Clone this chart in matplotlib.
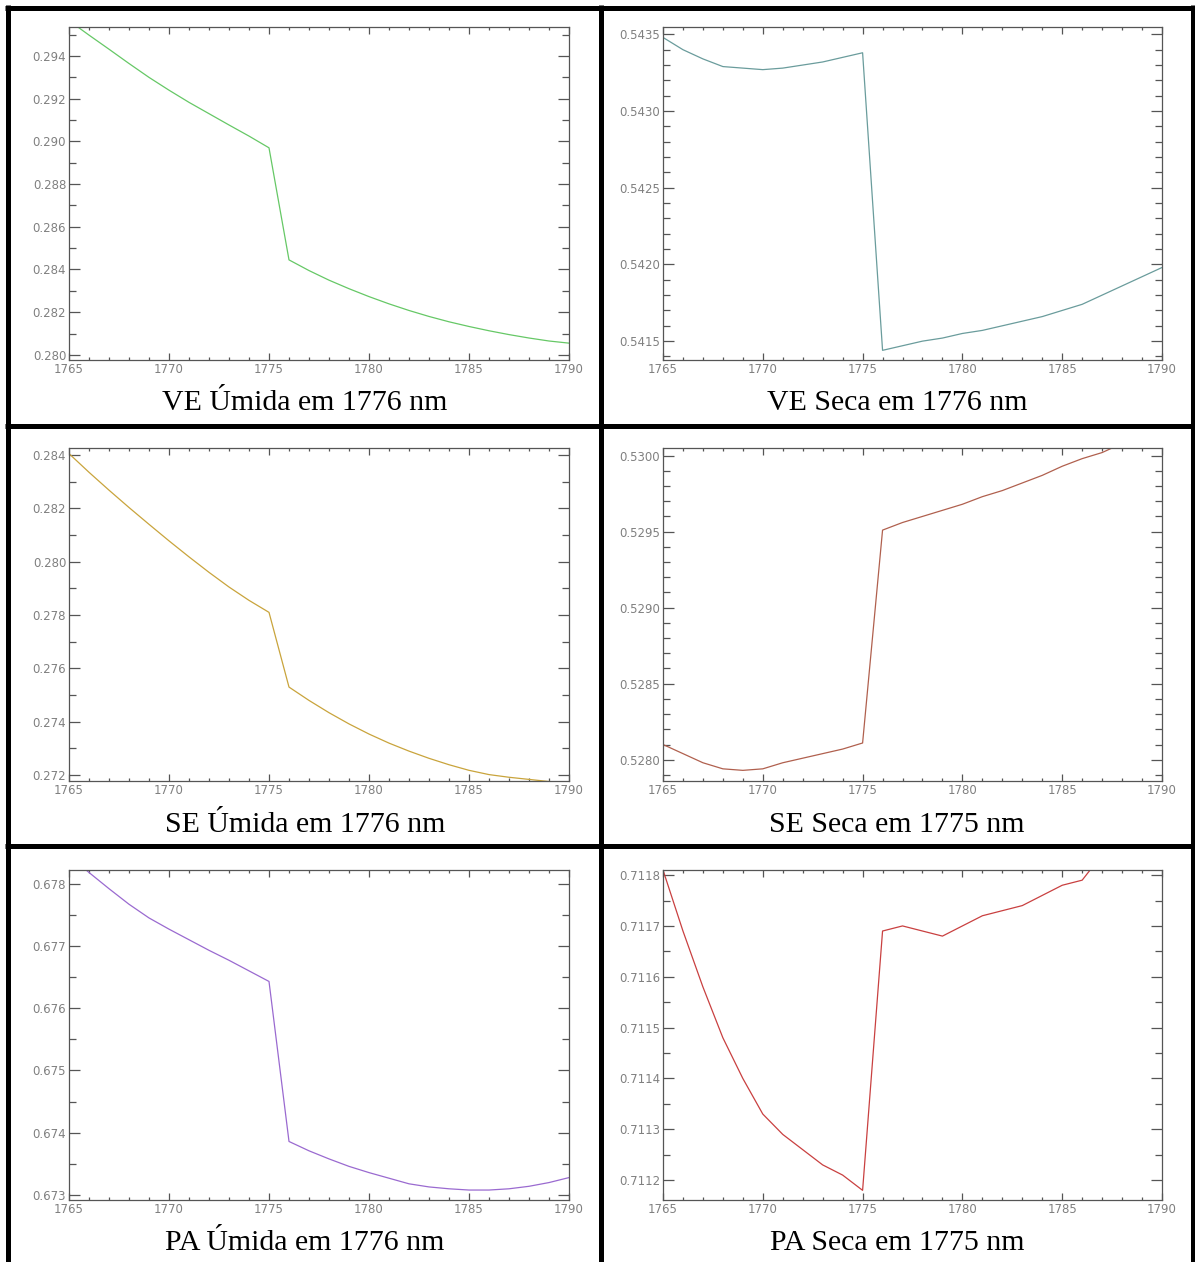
import matplotlib
matplotlib.use("Agg")
import matplotlib.pyplot as plt
from matplotlib.lines import Line2D
from matplotlib.ticker import MultipleLocator, FormatStrFormatter

# wavelengths (nm)
wl = [1765, 1766, 1767, 1768, 1769, 1770, 1771, 1772, 1773, 1774, 1775, 1776, 1777,
      1778, 1779, 1780, 1781, 1782, 1783, 1784, 1785, 1786, 1787, 1788, 1789, 1790]

ve_umida = [0.29566, 0.29498, 0.29432, 0.29365, 0.29300, 0.29240, 0.29183, 0.29130,
            0.29077, 0.29025, 0.28970, 0.28445, 0.28395, 0.28350, 0.28310, 0.28273,
            0.28239, 0.28208, 0.28180, 0.28155, 0.28133, 0.28113, 0.28095, 0.28079,
            0.28065, 0.28055]
ve_seca = [0.54348, 0.54340, 0.54334, 0.54329, 0.54328, 0.54327, 0.54328, 0.54330,
           0.54332, 0.54335, 0.54338, 0.54144, 0.54147, 0.54150, 0.54152, 0.54155,
           0.54157, 0.54160, 0.54163, 0.54166, 0.54170, 0.54174, 0.54180, 0.54186,
           0.54192, 0.54198]
se_umida = [0.28405, 0.28335, 0.28268, 0.28203, 0.28140, 0.28078, 0.28018, 0.27960,
            0.27905, 0.27855, 0.27810, 0.27530, 0.27480, 0.27434, 0.27392, 0.27354,
            0.27320, 0.27290, 0.27263, 0.27239, 0.27218, 0.27202, 0.27192, 0.27184,
            0.27176, 0.27168]
se_seca = [0.52810, 0.52804, 0.52798, 0.52794, 0.52793, 0.52794, 0.52798, 0.52801,
           0.52804, 0.52807, 0.52811, 0.52951, 0.52956, 0.52960, 0.52964, 0.52968,
           0.52973, 0.52977, 0.52982, 0.52987, 0.52993, 0.52998, 0.53002, 0.53008]
pa_umida = [0.67845, 0.67818, 0.67792, 0.67767, 0.67745, 0.67727, 0.67710, 0.67693,
            0.67677, 0.67660, 0.67643, 0.67386, 0.67371, 0.67358, 0.67346, 0.67336,
            0.67327, 0.67318, 0.67313, 0.67310, 0.67308, 0.67308, 0.67310, 0.67314,
            0.67320, 0.67328]
pa_seca = [0.71181, 0.71169, 0.71158, 0.71148, 0.71140, 0.71133, 0.71129, 0.71126,
           0.71123, 0.71121, 0.71118, 0.71169, 0.71170, 0.71169, 0.71168, 0.71170,
           0.71172, 0.71173, 0.71174, 0.71176, 0.71178, 0.71179, 0.71184]

captions = ["VE Úmida em 1776 nm", "VE Seca em 1776 nm",
            "SE Úmida em 1776 nm", "SE Seca em 1775 nm",
            "PA Úmida em 1776 nm", "PA Seca em 1775 nm"]

W, H = 1195, 1262
fig = plt.figure(figsize=(W / 100, H / 100), dpi=100)
fig.patch.set_facecolor("white")


def add_ax(x0, y0, x1, y1):
    return fig.add_axes([x0 / W, 1 - y1 / H, (x1 - x0) / W, (y1 - y0) / H])


def rule(xs, ys):
    fig.add_artist(Line2D([x / W for x in xs], [1 - y / H for y in ys],
                          color="black", lw=3.6, solid_capstyle="butt"))


# table borders
rule([5, 1195], [7.5, 7.5])
rule([7.5, 7.5], [5, 1262])
rule([1193, 1193], [5, 1262])
rule([601, 601], [5, 1262])
rule([5, 1195], [426.5, 426.5])
rule([5, 1195], [846, 846])

cols = [(69, 569), (663, 1162)]
rows = [(27, 360), (448, 781), (870, 1200)]
cap_y = [403, 825, 1243]
cap_x = [305, 897]

panels = [
    (ve_umida, "#66c866", (0.27976, 0.29536), 0.002, 0.001, "%.3f"),
    (ve_seca, "#6a9c9c", (0.541377, 0.543548), 0.0005, 0.0001, "%.4f"),
    (se_umida, "#c9a43c", (0.27178, 0.28426), 0.002, 0.001, "%.3f"),
    (se_seca, "#b0604e", (0.52786, 0.53005), 0.0005, 0.0001, "%.4f"),
    (pa_umida, "#9a6ad0", (0.67292, 0.67822), 0.001, 0.0005, "%.3f"),
    (pa_seca, "#c94040", (0.711161, 0.71181), 0.0001, 0.00005, "%.4f"),
]

for i, (ys, color, ylim, major, minor, fmt) in enumerate(panels):
    r, c = divmod(i, 2)
    ax = add_ax(cols[c][0], rows[r][0], cols[c][1], rows[r][1])
    ax.plot(wl[:len(ys)], ys, color=color, lw=0.9)
    ax.set_xlim(1765, 1790)
    ax.set_ylim(*ylim)
    ax.xaxis.set_major_locator(MultipleLocator(5))
    ax.xaxis.set_minor_locator(MultipleLocator(1))
    ax.yaxis.set_major_locator(MultipleLocator(major))
    ax.yaxis.set_minor_locator(MultipleLocator(minor))
    ax.yaxis.set_major_formatter(FormatStrFormatter(fmt))
    for sp in ax.spines.values():
        sp.set_color("#555555")
        sp.set_linewidth(0.9)
    ax.tick_params(which="both", direction="in", top=True, right=True,
                   color="#555555", width=0.9, labelcolor="#808080", labelsize=8.5)
    ax.tick_params(axis="x", which="major", length=5, pad=2)
    ax.tick_params(axis="x", which="minor", length=2.5)
    ax.tick_params(axis="y", which="major", length=8, pad=2)
    ax.tick_params(axis="y", which="minor", length=5)

    fig.text(cap_x[c] / W, 1 - cap_y[r] / H, captions[i], ha="center", va="center",
             family="Liberation Serif", fontsize=21.5, color="black")

fig.savefig("out.png", dpi=100)
